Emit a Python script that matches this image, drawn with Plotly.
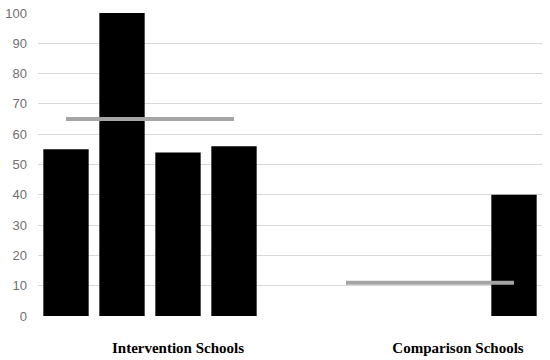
import plotly.graph_objects as go

slots = list(range(9))
bar_values = [55, 100, 54, 56, None, None, None, None, 40]
line_values = [65, 65, 65, 65, None, 11, 11, 11, 11]
group_ticks = [2, 7]
group_labels = ["Intervention Schools", "Comparison Schools"]
y_ticks = [0, 10, 20, 30, 40, 50, 60, 70, 80, 90, 100]

fig = go.Figure()
fig.add_trace(go.Bar(x=slots, y=bar_values, marker=dict(color="#000000", line=dict(width=0)),
                     width=0.81, showlegend=False))
fig.add_trace(go.Scatter(x=slots, y=line_values, mode="lines", connectgaps=False,
                         line=dict(color="#a5a5a5", width=4), showlegend=False))

fig.update_layout(
    width=550, height=360,
    margin=dict(l=38, r=8, t=13, b=44, autoexpand=False),
    paper_bgcolor="white", plot_bgcolor="white",
    xaxis=dict(range=[-0.5, 8.5], tickmode="array", tickvals=group_ticks,
               ticktext=["<b>" + t + "</b>" for t in group_labels],
               showgrid=False, zeroline=False, showline=False, automargin=False,
               tickfont=dict(family="Liberation Serif", size=15, color="#000000"),
               ticklabelstandoff=21),
    yaxis=dict(range=[0, 100], tickmode="array", tickvals=y_ticks, automargin=False,
               showgrid=True, gridcolor="#d9d9d9", gridwidth=1, zeroline=False, showline=False,
               tickfont=dict(family="Liberation Sans", size=13, color="#707070"),
               ticklabelstandoff=10),
)
fig.write_html("out.html", config={"displayModeBar": False},
               post_script="document.body.style.margin='0';document.body.style.overflow='hidden';")
